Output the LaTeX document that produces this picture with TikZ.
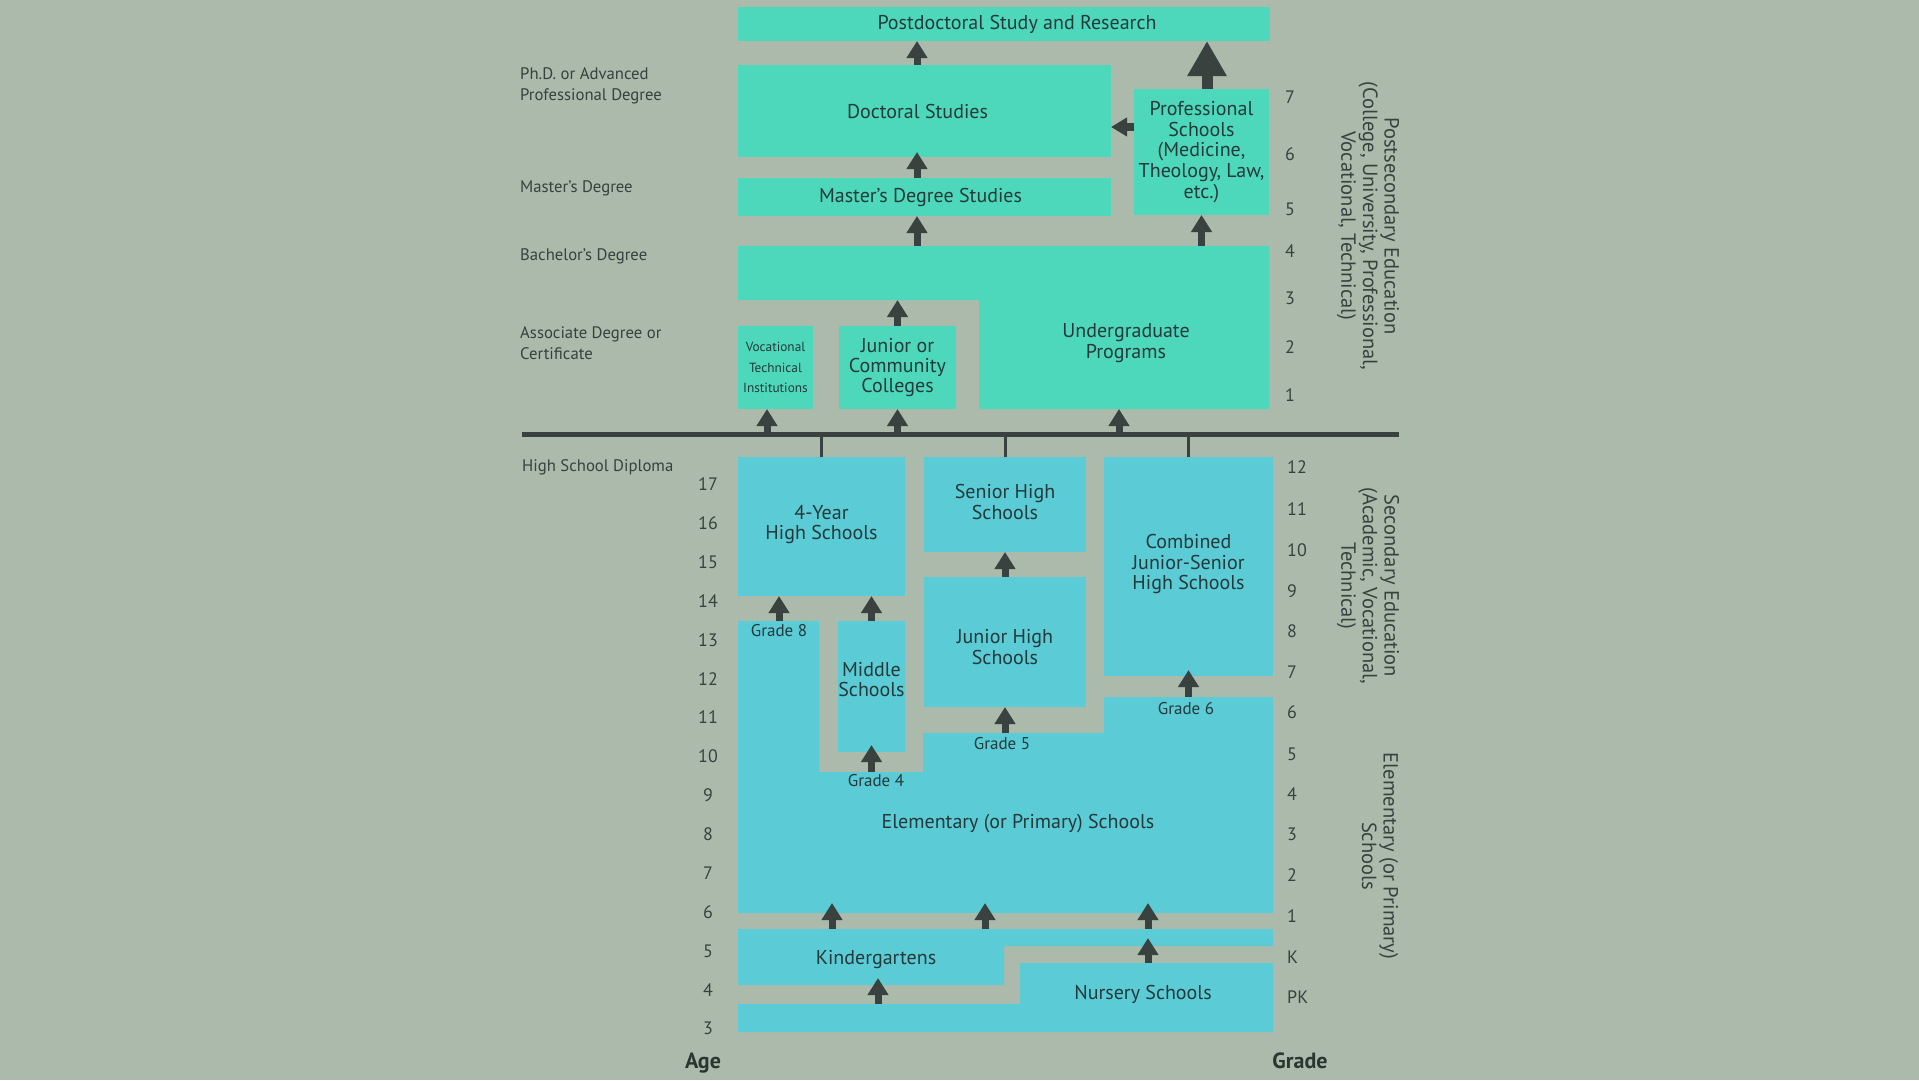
\documentclass[tikz,border=0pt]{standalone}
\usepackage{fontspec}
\setmainfont{PT Sans}
\usetikzlibrary{arrows.meta,calc}
\definecolor{bg}{HTML}{ABBAAA}
\definecolor{teal1}{HTML}{4ED8BB}
\definecolor{cyan1}{HTML}{5BCBD6}
\definecolor{dark}{HTML}{39423F}
\definecolor{txt}{HTML}{24393A}
\definecolor{lbl}{HTML}{34433D}
\tikzset{
  box/.style={inner sep=0pt, outer sep=0pt, align=center, text=txt, font=\fontsize{20}{20.8}\selectfont},
  tbox/.style={box, fill=teal1},
  cbox/.style={box, fill=cyan1},
  lefttxt/.style={anchor=west, align=left, text=lbl, inner sep=0pt, font=\fontsize{16.7}{20.8}\selectfont},
  num/.style={text=lbl, inner sep=0pt, font=\fontsize{18}{20}\selectfont},
  gradelbl/.style={text=txt, inner sep=0pt, font=\fontsize{17}{19}\selectfont},
  rottxt/.style={rotate=-90, align=center, text=lbl, inner sep=0pt, font=\fontsize{20.5}{21.6}\selectfont},
  boldlbl/.style={text=lbl!80!black, inner sep=0pt, font=\fontsize{22}{24}\selectfont\bfseries},
  arr/.style={draw=dark, line width=7pt, -{Triangle[width=20pt,length=17pt]}},
  bigarr/.style={draw=dark, line width=11pt, -{Triangle[width=37pt,length=35pt]}},
  tick/.style={draw=dark, line width=3pt}
}
\begin{document}
\begin{tikzpicture}[x=1pt,y=-1pt]
\fill[bg] (0,0) rectangle (1919,1080);
\useasboundingbox (0,0) rectangle (1919,1080);

% columns and rows
\coordinate (x917) at (917,0);
\coordinate (x1207) at (1207,0);
\coordinate (x767) at (767,0);
\coordinate (x1119) at (1119,0);
\coordinate (x779) at (779,0);
\coordinate (x832) at (832,0);
\coordinate (x985) at (985,0);
\coordinate (x1148) at (1148,0);
\coordinate (x878) at (878,0);
\coordinate (y127) at (0,127);
\coordinate (ugtop) at (0,246);
\coordinate (ugstep) at (0,300);
\coordinate (ugbot) at (0,409);
\coordinate (eltop) at (0,621);
\coordinate (elmid) at (0,772);
\coordinate (elfive) at (0,733);
\coordinate (elsix) at (0,697);
\coordinate (elbot) at (0,913);
\coordinate (kgtop) at (0,929);
\coordinate (kgstep) at (0,946);
\coordinate (kgbot) at (0,985);
\coordinate (nstop) at (0,963);
\coordinate (nsmid) at (0,1004);

% postsecondary boxes
\node[tbox, minimum width=532pt, minimum height=34pt] (postdoc) at (1004,24) {\hspace*{26pt}Postdoctoral Study and Research};
\node[tbox, minimum width=373pt, minimum height=92pt] (doctoral) at (924.5,111) {Doctoral Studies\hspace*{14pt}};
\node[tbox, minimum width=135pt, minimum height=126pt] (prof) at (1201.5,152) {Professional\\Schools\\(Medicine,\\Theology, Law,\\etc.)};
\node[tbox, minimum width=373pt, minimum height=38pt] (master) at (924.5,197) {Master’s Degree Studies\hspace*{8pt}};
\fill[teal1] (738,246) -- (1269,246) -- (1269,409) -- (979,409) -- (979,300) -- (738,300) -- cycle;
\node[box] (under) at (1126,343.5) {Undergraduate\\Programs};
\node[tbox, minimum width=75pt, minimum height=83pt, font=\fontsize{13.3}{20.2}\selectfont] (voc) at (775.5,367.5) {Vocational\\Technical\\Institutions};
\node[tbox, minimum width=117pt, minimum height=83pt, font=\fontsize{20}{20.2}\selectfont] (jc) at (897.5,367.5) {Junior or\\Community\\Colleges};

% bar
\node[fill=dark, inner sep=0pt, minimum width=877pt, minimum height=5.5pt] (bar) at (960.5,434.5) {};

% secondary boxes
\node[cbox, minimum width=167pt, minimum height=139pt, label={[box, yshift=2pt]center:4-Year\\High Schools}] (fouryr) at (821.5,526.5) {};
\node[cbox, minimum width=162pt, minimum height=95pt, label={[box, yshift=2.5pt]center:Senior High\\Schools}] (senior) at (1005,504.5) {};
\node[cbox, minimum width=169pt, minimum height=219pt, label={[box, yshift=2.5pt]center:Combined\\Junior-Senior\\High Schools}] (combined) at (1188.5,566.5) {};
\node[cbox, minimum width=162pt, minimum height=130pt, label={[box, yshift=-5pt]center:Junior High\\Schools}] (juniorhs) at (1005,642) {};
\node[cbox, minimum width=67pt, minimum height=131pt, label={[box, yshift=7pt]center:Middle\\Schools}] (middle) at (871.5,686.5) {};

% elementary, kindergarten, nursery
\fill[cyan1] (738,621) -- (819,621) -- (819,772) -- (923,772) -- (923,733) -- (1104,733) -- (1104,697) -- (1273,697) -- (1273,913) -- (738,913) -- cycle;
\node[box] (elem) at (1018,824) {Elementary (or Primary) Schools};
\fill[cyan1] (738,929) -- (1273,929) -- (1273,946) -- (1004,946) -- (1004,985) -- (738,985) -- cycle;
\node[box] (kinder) at (876,959.5) {Kindergartens};
\fill[cyan1] (1020,963) -- (1273,963) -- (1273,1032) -- (738,1032) -- (738,1004) -- (1020,1004) -- cycle;
\node[box] (nursery) at (1143,994) {Nursery Schools};

% grade labels
\node[gradelbl] (g8) at (779,631) {Grade 8};
\node[gradelbl] (g4) at (876,781) {Grade 4};
\node[gradelbl] (g5) at (1002,744) {Grade 5};
\node[gradelbl] (g6) at (1186,709) {Grade 6};

% ticks
\draw[tick] (bar.south -| fouryr.north) -- (fouryr.north);
\draw[tick] (bar.south -| senior.north) -- (senior.north);
\draw[tick] (bar.south -| combined.north) -- (combined.north);

% arrows
\draw[arr] (doctoral.north -| x917) -- (postdoc.south -| x917);
\draw[bigarr] (prof.north -| x1207) -- (postdoc.south -| x1207);
\draw[draw=dark, line width=8pt, -{Triangle[width=18pt,length=16pt]}] (prof.west |- y127) -- (doctoral.east |- y127);
\draw[arr] (master.north -| x917) -- ($(doctoral.south -| x917)+(0,-5)$);
\draw[arr] (ugtop -| x917) -- (master.south -| x917);
\draw[arr] (ugtop -| prof.south) -- (prof.south);
\draw[arr] (jc.north) -- (jc.north |- ugstep);
\draw[arr] (bar.north -| x767) -- (voc.south -| x767);
\draw[arr] (bar.north -| jc.south) -- (jc.south);
\draw[arr] (bar.north -| x1119) -- (ugbot -| x1119);
\draw[arr] (eltop -| x779) -- (fouryr.south -| x779);
\draw[arr] (middle.north) -- (middle.north |- fouryr.south);
\draw[arr] (juniorhs.north) -- (senior.south);
\draw[arr] (elmid -| middle.south) -- ($(middle.south)+(0,-7)$);
\draw[arr] (elfive -| juniorhs.south) -- (juniorhs.south);
\draw[arr] (elsix -| combined.south) -- ($(combined.south)+(0,-6)$);
\draw[arr] (kgtop -| x832) -- ($(elbot -| x832)+(0,-10)$);
\draw[arr] (kgtop -| x985) -- ($(elbot -| x985)+(0,-10)$);
\draw[arr] (kgtop -| x1148) -- ($(elbot -| x1148)+(0,-10)$);
\draw[arr] (nstop -| x1148) -- ($(kgstep -| x1148)+(0,-8)$);
\draw[arr] (nsmid -| x878) -- ($(kgbot -| x878)+(0,-7)$);

% left labels
\node[lefttxt] (phd) at (520,85.5) {Ph.D. or Advanced\\Professional Degree};
\node[lefttxt] (msd) at (520,188.5) {Master’s Degree};
\node[lefttxt] (bsd) at (520,256.5) {Bachelor’s Degree};
\node[lefttxt] (asd) at (520,343) {Associate Degree or\\Certificate};
\node[lefttxt] (hsd) at (522,467.5) {High School Diploma};

% ages
\foreach \a/\yy in {17/484,16/523,15/562,14/601,13/640,12/679,11/717,10/756,9/795,8/834,7/873,6/912,5/951,4/990,3/1028}
  \node[num] (age\a) at (708,\yy) {\a};
\node[boldlbl] (agelbl) at (703,1063) {Age};

% grades
\foreach \g/\yy in {7/97,6/154,5/209,4/251,3/298,2/347,1/395}
  \node[num, anchor=west] (pg\g) at (1285,\yy) {\g};
\foreach \g/\yy in {12/467.5,11/509.5,10/550.5,9/591.5,8/631.5,7/672.5,6/712.5,5/754.5,4/794.5,3/834.5,2/875.5,1/916.5,K/957.5,PK/997.5}
  \node[num, anchor=west] (sg\g) at (1287,\yy) {\g};
\node[boldlbl] (gradelbl) at (1300,1061) {Grade};

% rotated side labels
\node[rottxt] (postsec) at (1368,226) {Postsecondary Education\\(College, University, Professional,\\Vocational, Technical)};
\node[rottxt] (secondary) at (1368,586) {Secondary Education\\(Academic, Vocational,\\Technical)};
\node[rottxt] (elemside) at (1380,856) {Elementary (or Primary)\\Schools};
\end{tikzpicture}
\end{document}
